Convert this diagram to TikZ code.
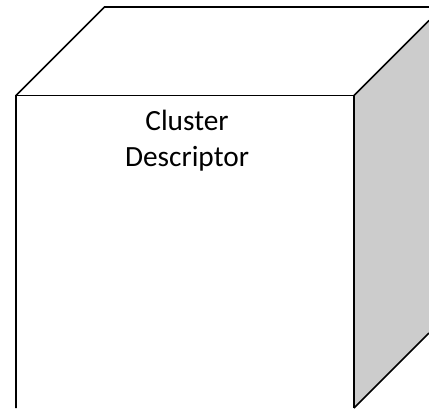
\documentclass[tikz,border=0pt]{standalone}
\usepackage{fontspec}
\setmainfont{Carlito}
\definecolor{sideface}{HTML}{CCCCCC}
\tikzset{cubeline/.style={draw=black,line width=1.2pt,line join=miter},
cubelabel/.style={align=center,font=\fontsize{22}{27}\selectfont,text=black,inner sep=0pt}}
\begin{document}
\begin{tikzpicture}[x=1pt,y=-1pt,scale=0.75]
\useasboundingbox (0,0) rectangle (429,408);
\fill[white] (0,0) rectangle (429,408);
\coordinate (a) at (16,95.5);
\coordinate (b) at (354,95.5);
\coordinate (c) at (354,408);
\coordinate (d) at (16,408);
\coordinate (e) at (104.5,7);
\coordinate (f) at (429,7);
\coordinate (h) at (429,20.5);
\coordinate (g) at (429,333);
\fill[sideface] (b)--(h)--(g)--(c)--cycle;
\draw[cubeline] (d)--(a)--(e)--(f);
\draw[cubeline] (a)--(b)--(c);
\draw[cubeline] (h)--(b);
\draw[cubeline] (c)--(g);
\node[cubelabel] (label) at (187,141) {Cluster\\Descriptor};
\end{tikzpicture}
\end{document}
